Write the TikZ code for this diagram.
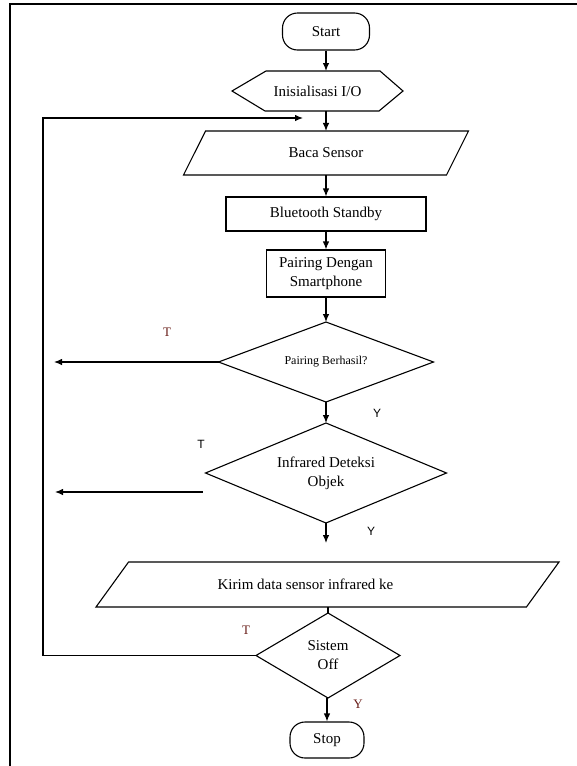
\documentclass[tikz,border=0pt]{standalone}
\usepackage{fontspec}
\setmainfont{Liberation Serif}
\newfontfamily\labsans{Liberation Sans}
\usetikzlibrary{shapes.geometric, arrows, arrows.meta, positioning}
\definecolor{tred}{RGB}{105,30,25}

\begin{document}
\begin{tikzpicture}[x=1pt, y=-1pt, line width=1.1pt, font=\fontsize{15}{19}\selectfont]
	\tikzstyle{term}=[rectangle, draw, rounded corners=15pt, minimum height=37pt, align=center]
	\tikzstyle{proc}=[rectangle, draw, minimum height=34pt, align=center]
	\tikzstyle{io}=[trapezium, draw, trapezium stretches body=true, inner sep=0pt, outer sep=0pt]
	\tikzstyle{dec}=[diamond, draw, inner sep=0pt, outer sep=0pt, align=center]
	\tikzstyle{arr}=[-{Latex[length=8pt, width=6.5pt]}]
	\tikzstyle{lblY}=[font=\labsans\fontsize{12}{14}\selectfont]
	\tikzstyle{lblT}=[text=tred, font=\fontsize{13}{15}\selectfont]
	
	\useasboundingbox (0,0) rectangle (577,766);
	\draw[line width=2.6pt] (10,766) -- (10,4) -- (577,4);
	
	\node[term, minimum width=87pt] (start) at (326,31.5) {Start};
	\node[minimum width=171pt, minimum height=40pt, outer sep=0pt, below of=start, node distance=59.5pt, xshift=-8.5pt] (init) {Inisialisasi I/O};
	\draw (init.west) -- ([xshift=34pt]init.north west) -- ([xshift=-23pt]init.north east)
		-- (init.east) -- ([xshift=-24pt]init.south east) -- ([xshift=33pt]init.south west) -- cycle;
	\node[io, trapezium left angle=24.6, trapezium right angle=155.4, minimum width=285pt, minimum height=44pt,
		below of=init, node distance=62pt, xshift=8.5pt] (baca) {Baca Sensor};
	\node[proc, minimum width=200pt, below of=baca, node distance=61pt] (blue) {Bluetooth Standby};
	\node[proc, minimum width=119pt, minimum height=47pt, below of=blue, node distance=59.5pt] (pair) {Pairing Dengan\\Smartphone};
	\node[dec, aspect=2.69, minimum width=215pt, minimum height=80pt, font=\fontsize{12}{14}\selectfont,
		below of=pair, node distance=88.5pt] (pb) {Pairing Berhasil?};
	\node[dec, aspect=2.41, minimum width=241pt, minimum height=100pt, below of=pb, node distance=111pt] (inf) {Infrared Deteksi\\Objek};
	\node[io, trapezium left angle=18.2, trapezium right angle=161.8, minimum width=463pt, minimum height=45pt,
		below of=inf, node distance=111.5pt, xshift=1.5pt] (kirim) {Kirim data sensor infrared ke\hspace*{44pt}};
	\node[dec, aspect=1.69, minimum width=144pt, minimum height=85pt, below of=kirim, node distance=71pt, xshift=0.5pt] (sis) {Sistem\\Off};
	\node[term, minimum width=74pt, minimum height=36pt, below of=sis, node distance=84.5pt, xshift=-1pt] (stop) {Stop};
	
	\coordinate (lp) at (303,118);
	\coordinate (loopc) at (43,118);
	\coordinate (pbT) at (54,362);
	\coordinate (infT) at (55,492);
	
	\draw[arr] (start) -- (start |- init.north);
	\draw[arr] (start |- init.south) -- (start |- baca.north);
	\draw[arr] (blue |- baca.south) -- (blue);
	\draw[arr] (blue) -- (blue |- pair.north);
	\draw[arr] (pair) -- (pair |- pb.north);
	\draw[arr] (inf |- pb.south) -- (inf);
	\draw[arr] (pb.west) -- (pbT);
	\draw[arr] ([xshift=-3pt, yshift=-19pt]inf.west) -- (infT);
	\draw[arr] (inf) -- ([yshift=19pt]inf |- kirim.north);
	\draw (sis |- kirim.south) -- (sis.north);
	\draw[arr] (sis.west) -| (loopc) -- (lp);
	\draw[arr] (stop |- sis.south) -- (stop);
	
	\node[lblT] (t1) at (167,332) {T};
	\node[lblY] (t2) at (201,444) {T};
	\node[lblT] (t3) at (246,630) {T};
	\node[lblY] (y1) at (377,413) {Y};
	\node[lblY] (y2) at (371,531) {Y};
	\node[lblT] (y3) at (358,704) {Y};
\end{tikzpicture}
\end{document}
